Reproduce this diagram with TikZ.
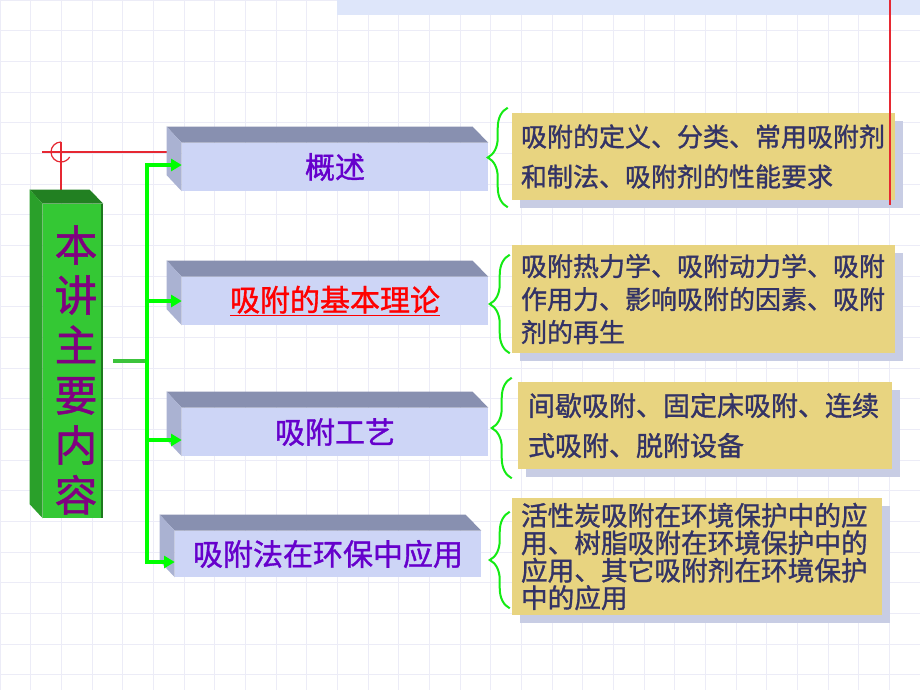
\documentclass[tikz,border=0pt]{standalone}
\usepackage{fontspec}
\setmainfont{Noto Sans CJK SC}
\newfontfamily\heavycjk{Noto Sans CJK SC}[FakeBold=1.2]
\usetikzlibrary{arrows.meta, decorations.pathreplacing, shadows}

\definecolor{gridgray}{RGB}{236,236,247}
\definecolor{bandblue}{RGB}{222,230,250}
\definecolor{markred}{RGB}{230,40,50}
\definecolor{greenfront}{RGB}{52,200,52}
\definecolor{greentop}{RGB}{34,128,34}
\definecolor{greenside}{RGB}{42,160,42}
\definecolor{greenedge}{RGB}{30,120,30}
\definecolor{bluefront}{RGB}{205,213,246}
\definecolor{bluetop}{RGB}{136,144,176}
\definecolor{blueside}{RGB}{170,178,210}
\definecolor{linegreen}{RGB}{0,255,0}
\definecolor{stubgreen}{RGB}{60,195,60}
\definecolor{bracegreen}{RGB}{20,235,20}
\definecolor{notefill}{RGB}{232,212,128}
\definecolor{noteshadow}{RGB}{200,205,228}
\definecolor{notetext}{RGB}{51,51,102}
\definecolor{topicviolet}{RGB}{102,0,204}
\definecolor{titlepurple}{RGB}{128,0,128}

\tikzstyle{backgrid} = [draw=gridgray, line width=0.6pt]
\tikzstyle{redline} = [draw=markred, line width=0.9pt]
\tikzstyle{mainbox} = [rectangle, fill=greenfront, minimum width=45pt, minimum height=235.5pt, inner sep=0pt]
\tikzstyle{titlelabel} = [text=titlepurple, align=center, inner sep=0pt, font=\heavycjk\fontsize{32pt}{37.5pt}\selectfont]
\tikzstyle{topic} = [rectangle, fill=bluefront, minimum width=229.5pt, minimum height=36pt, inner sep=0pt, text=topicviolet, font=\heavycjk\fontsize{22.5pt}{27pt}\selectfont]
\tikzstyle{topface} = [fill=bluetop]
\tikzstyle{sideface} = [fill=blueside]
\tikzstyle{note} = [rectangle, fill=notefill, text=notetext, align=left, inner xsep=6.75pt, inner ysep=2pt, drop shadow={shadow xshift=6pt, shadow yshift=-6pt, fill=noteshadow, opacity=1}]
\tikzstyle{stub} = [draw=stubgreen, line width=3pt]
\tikzstyle{arrow} = [draw=linegreen, line width=3pt, -{Triangle[length=8pt, width=9pt]}]
\tikzstyle{brace} = [draw=bracegreen, line width=1.5pt, decorate, decoration={brace, amplitude=15pt}]

\begin{document}
\begin{tikzpicture}[x=0.75pt, y=-0.75pt]

% Background
\useasboundingbox (0,0) rectangle (920,690);
\fill[white] (0,0) rectangle (920,690);
\draw[backgrid, step=23pt] (0,0) grid (920,690);
\fill[bandblue] (337,0) rectangle (920,15);

% Marks
\coordinate (cross) at (61,152);
\draw[redline] (42,152) -- (167,152);
\draw[redline] (61,142) -- (61,190);
\draw[redline] (cross) ++(270:10) arc[start angle=270, end angle=30, radius=10];

% Nodes
\node (gbox) [mainbox] at (73,361) {};
\fill[greentop] (gbox.north west) -- ++(-13,-14) -- ++(60,0) -- (gbox.north east) -- cycle;
\fill[greenside] (gbox.north west) -- ++(-13,-14) -- ([shift={(-13,-14)}]gbox.south west) -- (gbox.south west) -- cycle;
\fill[greenedge] ([xshift=-2pt]gbox.north east) rectangle (gbox.south east);
\node (title) [titlelabel] at (76,370) {本\\讲\\主\\要\\内\\容};

\node (b1) [topic] at (335,167) {概述};
\node (b2) [topic, text=red] at (335,301) {\underline{吸附的基本理论}};
\node (b3) [topic] at (335,432) {吸附工艺};
\node (b4) [topic, minimum height=34.5pt] at (328,554) {吸附法在环保中应用};
\foreach \b in {b1,b2,b3,b4} {
  \fill[topface] (\b.north west) -- ++(-15,-16) -- ++(306,0) -- (\b.north east) -- cycle;
  \fill[sideface] (\b.north west) -- ++(-15,-16) -- ([shift={(-15,-16)}]\b.south west) -- (\b.south west) -- cycle;
}

\node (n1) [note, minimum height=65.25pt, text width=273.75pt, font=\heavycjk\fontsize{19.5pt}{30pt}\selectfont] at (703.5,156.5) {吸附的定义、分类、常用吸附剂\\和制法、吸附剂的性能要求};
\node (n2) [note, minimum height=81pt, text width=273.75pt, font=\heavycjk\fontsize{19.5pt}{24.75pt}\selectfont] at (703.5,299) {吸附热力学、吸附动力学、吸附\\作用力、影响吸附的因素、吸附\\剂的再生};
\node (n3) [note, inner xsep=7.5pt, minimum height=65.25pt, text width=265.5pt, font=\heavycjk\fontsize{20.25pt}{30pt}\selectfont] at (705,425.5) {间歇吸附、固定床吸附、连续\\式吸附、脱附设备};
\node (n4) [note, minimum height=87.75pt, text width=264pt, font=\heavycjk\fontsize{20pt}{20.6pt}\selectfont] at (697,556.5) {活性炭吸附在环境保护中的应\\用、树脂吸附在环境保护中的\\应用、其它吸附剂在环境保护\\中的应用};

% Arrows
\coordinate (fork) at (147,358);
\draw[stub, shorten <=7.5pt] (gbox.east) -- (gbox.east -| fork);
\draw[arrow] (fork) |- ([yshift=1.5pt]b1.west);
\draw[arrow] (fork) |- (b2.west);
\draw[arrow] (fork) |- ([yshift=-6pt]b3.west);
\draw[arrow] (fork) |- ([yshift=-6pt]b4.west);

% Braces
\draw[brace] ([shift={(-3pt,-5.25pt)}]n1.south west) -- ([shift={(-3pt,3.75pt)}]n1.north west);
\draw[brace] ([shift={(-1.5pt,0pt)}]n2.south west) -- ([shift={(-1.5pt,-7.5pt)}]n2.north west);
\draw[brace] ([shift={(-4.5pt,-6.75pt)}]n3.south west) -- ([shift={(-4.5pt,3pt)}]n3.north west);
\draw[brace] ([shift={(-1.5pt,5.25pt)}]n4.south west) -- ([shift={(-1.5pt,-10.5pt)}]n4.north west);

\draw[redline] (890,0) -- (890,205);

\end{tikzpicture}
\end{document}
